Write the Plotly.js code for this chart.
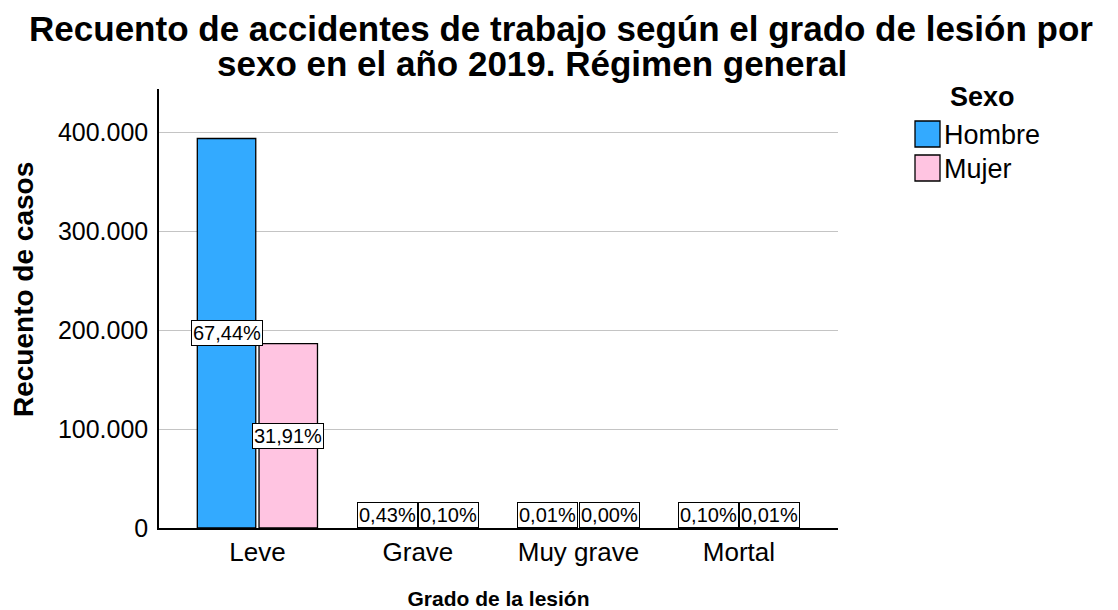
<!DOCTYPE html>
<html>
<head>
<meta charset="utf-8">
<script src="https://cdn.plot.ly/plotly-3.0.1.min.js"></script>
<style>html,body{margin:0;padding:0;background:#fff;}#chart{width:1118px;height:610px;}</style>
</head>
<body>
<div id="chart"></div>
<script>
// ---- data ----
const categories = ['Leve', 'Grave', 'Muy grave', 'Mortal'];
const hombre = [394100, 2510, 58, 584];
const mujer = [186500, 584, 18, 58];
const pctHombre = ['67,44%', '0,43%', '0,01%', '0,10%'];
const pctMujer = ['31,91%', '0,10%', '0,00%', '0,01%'];
const seriesNames = ['Hombre', 'Mujer'];
const seriesColors = ['#33aaff', '#ffc4e1'];
const legendTitle = 'Sexo';
const titleLines = ['Recuento de accidentes de trabajo según el grado de lesión por', 'sexo en el año 2019. Régimen general'];
const xTitle = 'Grado de la lesión';
const yTitle = 'Recuento de casos';

// ---- layout constants ----
const W = 1118, H = 610;
const M = {l: 159, r: 280, t: 89, b: 82};
const plotW = W - M.l - M.r, plotH = H - M.t - M.b;
const yMax = 444200;
const bargap = 0.231, bargroupgap = 0.053;
const FONT = 'Liberation Sans, Arial, sans-serif';

const px2x = px => (px - M.l) / plotW;
const py2y = py => (H - M.b - py) / plotH;

const series = [hombre, mujer];
const pcts = [pctHombre, pctMujer];

const traces = series.map((vals, i) => ({
  type: 'bar',
  x: categories,
  y: vals,
  name: seriesNames[i],
  marker: {color: seriesColors[i], line: {color: '#000', width: 1.3}},
  showlegend: false,
  hoverinfo: 'x+y+name'
}));

// data labels (boxes centred on bars, clamped to the baseline)
const slot = (1 - bargap) / 2;
const annotations = [];
const minCenter = yMax * 0.034;
series.forEach((vals, i) => {
  vals.forEach((v, j) => {
    const xc = j + (i - 0.5) * slot;
    const small = v / 2 < minCenter;
    annotations.push({
      xref: 'x', yref: 'y',
      x: xc, y: small ? 0 : v / 2,
      yanchor: small ? 'bottom' : 'middle',
      xanchor: 'center',
      text: pcts[i][j],
      showarrow: false,
      font: {family: FONT, size: 20, color: '#000'},
      bgcolor: '#fff', bordercolor: '#000', borderwidth: 1, borderpad: 1
    });
  });
});

// second title line (tight line spacing as in the reference)
annotations.push({
  xref: 'paper', yref: 'paper', x: px2x(532), y: py2y(63),
  xanchor: 'center', yanchor: 'middle', showarrow: false,
  text: '<b>' + titleLines[1] + '</b>',
  font: {family: FONT, size: 35, color: '#000'}
});

// y axis title
annotations.push({
  xref: 'paper', yref: 'paper', x: px2x(23), y: py2y(290),
  xanchor: 'center', yanchor: 'middle', showarrow: false, textangle: -90,
  text: '<b>' + yTitle + '</b>',
  font: {family: FONT, size: 28, color: '#000'}
});

// custom legend
const shapes = [];
annotations.push({
  xref: 'paper', yref: 'paper', x: px2x(983), y: py2y(97),
  xanchor: 'center', yanchor: 'middle', showarrow: false,
  text: '<b>' + legendTitle + '</b>',
  font: {family: FONT, size: 27, color: '#000'}
});
seriesNames.forEach((nm, i) => {
  const top = 121 + i * 34;
  shapes.push({
    type: 'rect', xref: 'paper', yref: 'paper',
    x0: px2x(915), x1: px2x(940), y0: py2y(top + 26), y1: py2y(top),
    fillcolor: seriesColors[i], line: {color: '#000', width: 1.3}
  });
  annotations.push({
    xref: 'paper', yref: 'paper', x: px2x(942), y: py2y(top + 14),
    xanchor: 'left', yanchor: 'middle', showarrow: false,
    text: nm, font: {family: FONT, size: 27, color: '#000'}
  });
});

const layout = {
  width: W, height: H,
  margin: M,
  paper_bgcolor: '#fff', plot_bgcolor: '#fff',
  separators: ',.',
  barmode: 'group',
  bargap: bargap, bargroupgap: bargroupgap,
  font: {family: FONT, color: '#000'},
  title: {
    text: '<b>' + titleLines[0] + '</b>',
    font: {family: FONT, size: 35, color: '#000'},
    xref: 'container', x: 561 / W, xanchor: 'center',
    yref: 'container', y: 1 - 29 / H, yanchor: 'middle'
  },
  xaxis: {
    type: 'category',
    range: [-0.613, 3.617],
    showline: true, linecolor: '#000', linewidth: 1.5,
    showgrid: false, zeroline: false, ticks: '',
    tickfont: {family: FONT, size: 26, color: '#000'},
    title: {text: '<b>' + xTitle + '</b>', font: {family: FONT, size: 21, color: '#000'}, standoff: 28},
    fixedrange: true
  },
  yaxis: {
    range: [0, yMax],
    dtick: 100000,
    tickformat: ',d',
    showline: true, linecolor: '#000', linewidth: 1.5,
    showgrid: true, gridcolor: '#c4c4c4', gridwidth: 1.3,
    zeroline: false, ticks: '',
    ticklabelstandoff: 4,
    tickfont: {family: FONT, size: 25, color: '#000'},
    fixedrange: true
  },
  shapes: shapes,
  annotations: annotations,
  showlegend: false
};

Plotly.newPlot('chart', traces, layout, {displayModeBar: false, responsive: false});
</script>
</body>
</html>
